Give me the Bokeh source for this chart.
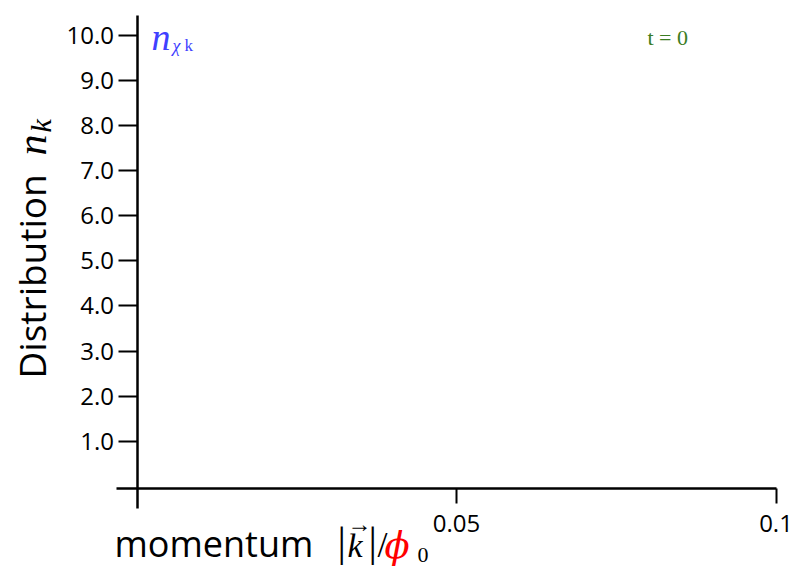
from bokeh.plotting import figure
from bokeh.models import (Range1d, LinearAxis, FixedTicker, NumeralTickFormatter, Label)
from bokeh.embed import file_html
from bokeh.resources import INLINE

# Axis ticks and labels
y_ticks = [1.0, 2.0, 3.0, 4.0, 5.0, 6.0, 7.0, 8.0, 9.0, 10.0]
x_ticks = [0.05, 0.1]
x_tick_labels = ["0.05", "0.1"]

W, H = 808, 570

# Canvas mapping: where x=0 / y=0 fall and how many pixels per unit
X0_PX, PX_PER_X = 136.5, 6390.0
Y0_PX, PX_PER_Y = 486.0, 45.15


def dx(px):
    return (px - X0_PX) / PX_PER_X


def dy(py):
    return (Y0_PX - py) / PX_PER_Y


p = figure(width=W, height=H, output_backend="svg", toolbar_location=None,
           x_range=Range1d(dx(0), dx(W)), y_range=Range1d(dy(H), dy(0)),
           x_axis_location=None, y_axis_location=None, min_border=0)
p.outline_line_color = None
p.grid.visible = False
p.background_fill_color = "white"

SANS = "Open Sans"
SERIF = "Liberation Serif"

yaxis = LinearAxis(fixed_location=0.0, bounds=(dy(508), dy(15)),
                   ticker=FixedTicker(ticks=y_ticks),
                   formatter=NumeralTickFormatter(format="0.0"))
yaxis.axis_line_width = 2.5
yaxis.major_tick_line_width = 2
yaxis.major_tick_out = 19
yaxis.major_tick_in = 0
yaxis.minor_tick_out = 0
yaxis.minor_tick_in = 0
yaxis.major_label_standoff = 4
yaxis.major_label_text_font = SANS
yaxis.major_label_text_font_size = "24px"
yaxis.major_label_text_color = "black"
p.add_layout(yaxis, "left")

xaxis = LinearAxis(fixed_location=dy(488), bounds=(dx(116), 0.1),
                   ticker=FixedTicker(ticks=x_ticks),
                   major_label_overrides=dict(zip(x_ticks, x_tick_labels)))
xaxis.axis_line_width = 2.5
xaxis.major_tick_line_width = 2
xaxis.major_tick_out = 15
xaxis.major_tick_in = 0
xaxis.minor_tick_out = 0
xaxis.minor_tick_in = 0
xaxis.major_label_standoff = 11
xaxis.major_label_text_font = SANS
xaxis.major_label_text_font_size = "24px"
xaxis.major_label_text_color = "black"
p.add_layout(xaxis, "below")

# Labels are anchored a little above their baseline in the svg output
SHIFT = 0.32


def label(text, px, py, size, font=SANS, style="normal", color="black", angle=0):
    if angle:
        px -= SHIFT * size
    else:
        py -= SHIFT * size
    p.add_layout(Label(x=dx(px), y=dy(py), text=text, text_font=font,
                       text_font_size=f"{size}px", text_font_style=style,
                       text_color=color, angle=angle, angle_units="deg",
                       text_baseline="alphabetic", text_align="left"))


# y-axis title: Distribution n_k (reads bottom to top)
label("Distribution", 43, 378, 37, angle=90)
label("n", 45, 155, 42, font=SERIF, style="italic", angle=90)
label("k", 50, 132, 30, font=SERIF, style="italic", angle=90)

# x-axis title: momentum |k|/phi_0
label("momentum", 114, 555, 36)
label("|", 337, 555, 42, font=SERIF)
label("k", 347, 556, 34, font=SERIF, style="italic")
label("\u2192", 347, 531, 24, font=SERIF)
label("|", 368, 555, 42, font=SERIF)
label("/", 377, 556, 36, font=SERIF)
label("\u03d5", 384, 557, 37, font="DejaVu Serif", style="italic", color="red")
label("0", 417, 562, 22, font=SERIF)

# series tag and time stamp
label("n", 151, 49, 38, font=SERIF, style="italic", color="#4040ff")
label("\u03c7", 172, 51, 18, font=SERIF, style="italic", color="#4040ff")
label("k", 184, 50, 17, font=SERIF, color="#4040ff")
label("t = 0", 647, 44, 22, font=SERIF, color="#3b7d23")

open("out.html", "w").write(file_html(p, INLINE))
